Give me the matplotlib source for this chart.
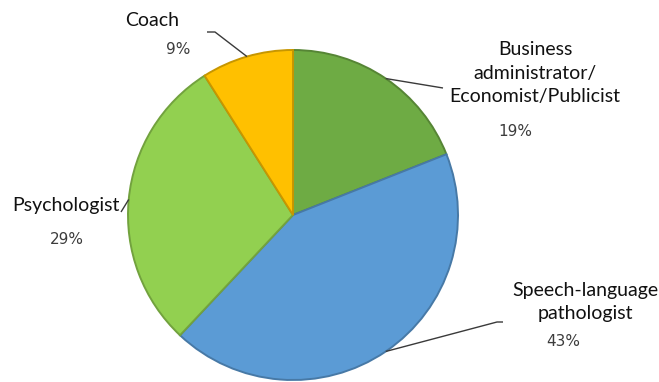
import numpy as np
import matplotlib
matplotlib.use("Agg")
import matplotlib.pyplot as plt
from matplotlib.colors import to_rgb

# Share of respondents by profession
categories = ["Business\nadministrator/\nEconomist/Publicist",
              "Speech-language\npathologist",
              "Psychologist",
              "Coach"]
shares = [19, 43, 29, 9]
pct_labels = ["19%", "43%", "29%", "9%"]
colors = ["#6EAB44", "#5B9BD5", "#92D050", "#FFC000"]

W, H = 659, 382
fig = plt.figure(figsize=(W / 100, H / 100), dpi=100)
ax = fig.add_axes([0, 0, 1, 1])

cx, cy, r = 293, H - 215, 165

def darker(c, f=0.8):
    return tuple(v * f for v in to_rgb(c))

wedges, _ = ax.pie(shares, colors=colors, startangle=90, counterclock=False,
                   center=(cx, cy), radius=r, frame=True,
                   wedgeprops=dict(linewidth=1.4))
for w, c in zip(wedges, colors):
    w.set_edgecolor(darker(c, 0.78))
ax.set_xlim(0, W)
ax.set_ylim(0, H)
ax.set_aspect("equal")
ax.axis("off")

label_font = dict(family=["Lato", "DejaVu Sans"], fontsize=14, color="#111111")
pct_font = dict(family=["DejaVu Sans"], fontsize=11, color="#3c3c3c")

def edge_point(w):
    mid = np.deg2rad((w.theta1 + w.theta2) / 2)
    return cx + r * np.cos(mid), cy + r * np.sin(mid)

# label layout: label centre, percentage centre, leader path beyond the pie edge
layout = [
    dict(lab=(535, 73), pct=(515, 132), path=[(443, 88)]),
    dict(lab=(585, 302), pct=(563, 341), path=[(497, 322), (503, 322)]),
    dict(lab=(66, 205), pct=(67, 239), path=[(121, 212)]),
    dict(lab=(152, 20), pct=(178, 50), path=[(215, 32), (207, 32)]),
]

for w, cat, pct, lay in zip(wedges, categories, pct_labels, layout):
    ex, ey = edge_point(w)
    xs = [ex] + [p[0] for p in lay["path"]]
    ys = [ey] + [H - p[1] for p in lay["path"]]
    ax.plot(xs, ys, color="#3a3a3a", lw=1.0, solid_capstyle="butt")
    ax.text(lay["lab"][0], H - lay["lab"][1], cat, ha="center", va="center",
            linespacing=1.45, **label_font)
    ax.text(lay["pct"][0], H - lay["pct"][1], pct, ha="center", va="center",
            **pct_font)

fig.savefig("out.png", dpi=100, facecolor="white")
